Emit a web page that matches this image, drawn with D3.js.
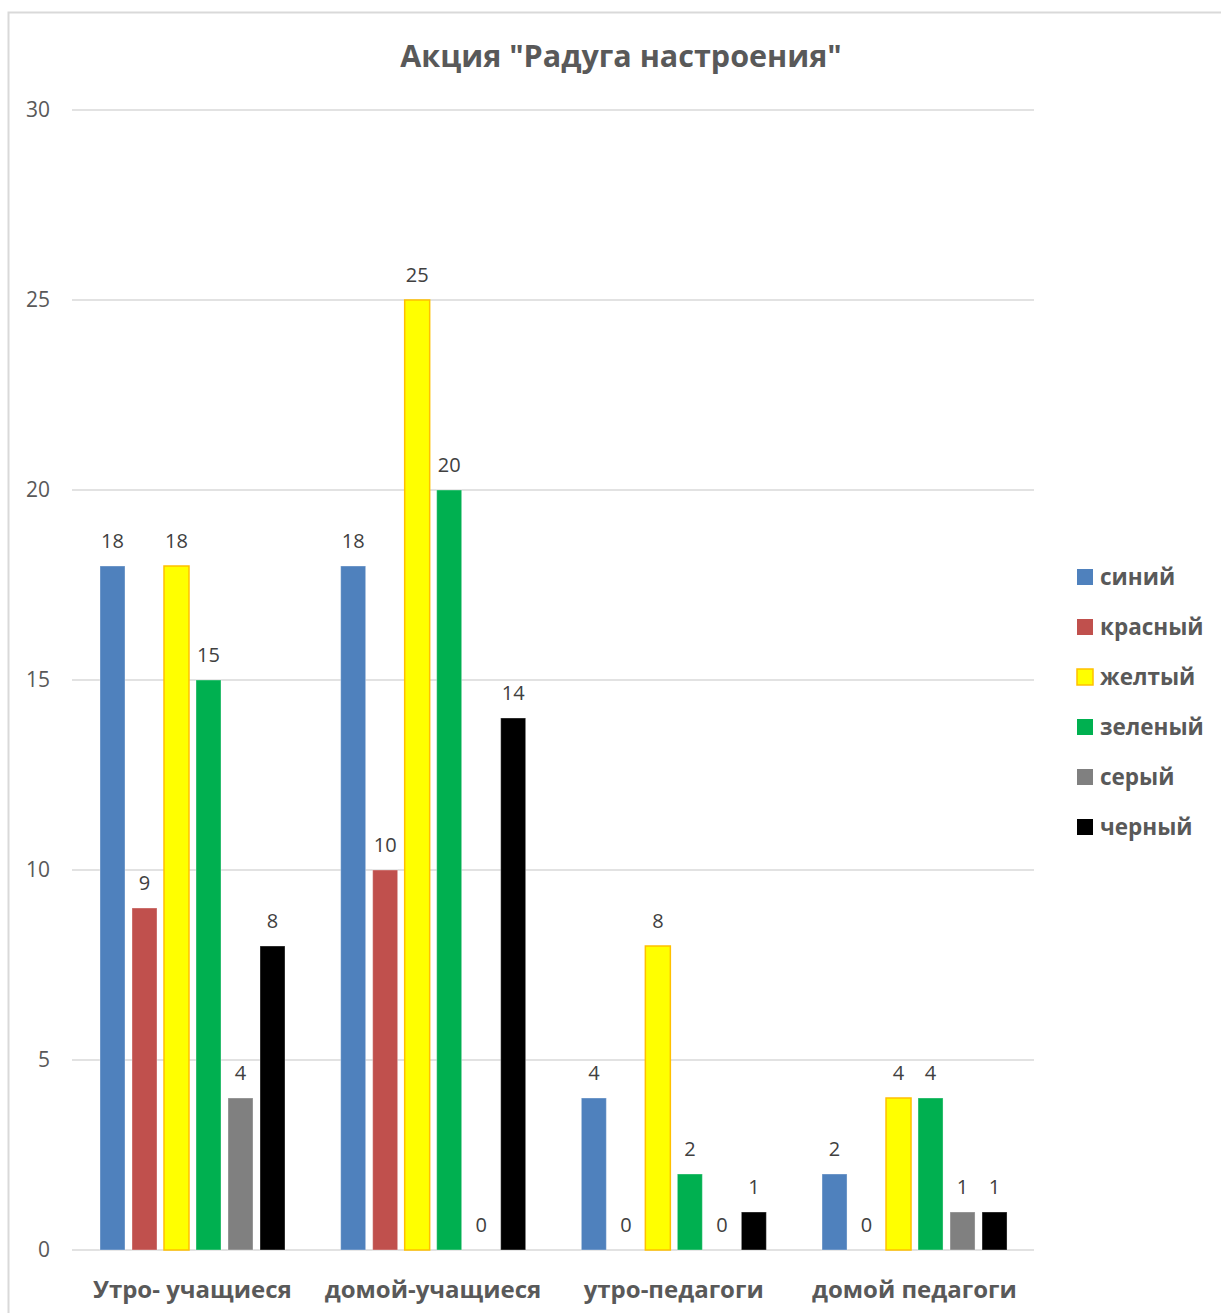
<!DOCTYPE html>
<html><head><meta charset="utf-8">
<script src="https://cdn.jsdelivr.net/npm/d3@7"></script>
<style>body{margin:0;background:#fff;} svg{display:block;}</style>
</head><body>
<script>
const categories = ["Утро- учащиеся", "домой-учащиеся", "утро-педагоги", "домой педагоги"];
const seriesNames = ["синий", "красный", "желтый", "зеленый", "серый", "черный"];
const seriesColors = ["#4F81BD", "#C0504D", "#FFFF00", "#00B050", "#808080", "#000000"];
const seriesStrokes = ["#4F81BD", "#C0504D", "#FFC000", "#00B050", "#808080", "#000000"];
const sinij = [18, 18, 4, 2];
const krasnyj = [9, 10, 0, 0];
const zheltyj = [18, 25, 8, 4];
const zelenyj = [15, 20, 2, 4];
const seryj = [4, 0, 0, 1];
const chernyj = [8, 14, 1, 1];
const yTicks = [0, 5, 10, 15, 20, 25, 30];
const title = 'Акция "Радуга настроения"';

const seriesValues = [sinij, krasnyj, zheltyj, zelenyj, seryj, chernyj];
const W = 1221, H = 1313;
const svg = d3.select("body").append("svg").attr("width", W).attr("height", H);
const font = "'Open Sans', 'DejaVu Sans', sans-serif";

svg.append("rect").attr("x", 8.5).attr("y", 12.5).attr("width", W + 10).attr("height", H + 10)
  .attr("fill", "#fff").attr("stroke", "#D9D9D9").attr("stroke-width", 2);

const x0 = d3.scaleBand().domain(categories).range([72, 1034.7]).padding(0);
const x1 = d3.scaleBand().domain(seriesNames).range([28, 213]).paddingInner(0.219).paddingOuter(0);
const y = d3.scaleLinear().domain([0, 30]).range([1250, 110]);

// gridlines
svg.append("g").selectAll("line").data(yTicks).join("line")
  .attr("x1", 72).attr("x2", 1034)
  .attr("y1", d => y(d)).attr("y2", d => y(d))
  .attr("stroke", "#D9D9D9").attr("stroke-width", 1.5);

// y axis labels
const yAxis = d3.axisLeft(y).tickValues(yTicks).tickSize(0).tickPadding(0);
const yg = svg.append("g").attr("transform", "translate(50,0)").call(yAxis);
yg.select(".domain").remove();
yg.selectAll("text").attr("font-family", font).attr("font-size", 21).attr("fill", "#595959");

// bars
const data = [];
categories.forEach((c, ci) => seriesNames.forEach((s, si) => data.push({c, s, si, v: seriesValues[si][ci]})));
const bars = svg.append("g");
bars.selectAll("rect").data(data.filter(d => d.v > 0)).join("rect")
  .attr("x", d => x0(d.c) + x1(d.s))
  .attr("y", d => y(d.v))
  .attr("width", x1.bandwidth())
  .attr("height", d => y(0) - y(d.v))
  .attr("fill", d => seriesColors[d.si])
  .attr("stroke", d => d.si === 2 ? seriesStrokes[d.si] : "#ffffff")
  .attr("stroke-opacity", d => d.si === 2 ? 1 : 0.35)
  .attr("stroke-width", d => d.si === 2 ? 1.5 : 1);

// data labels
svg.append("g").selectAll("text").data(data).join("text")
  .attr("x", d => x0(d.c) + x1(d.s) + x1.bandwidth() / 2)
  .attr("y", d => y(d.v) - 18)
  .attr("text-anchor", "middle")
  .attr("font-family", font).attr("font-size", 20).attr("fill", "#404040")
  .text(d => d.v);

// x axis labels
const xAxis = d3.axisBottom(x0).tickSize(0).tickPadding(0);
const xg = svg.append("g").attr("transform", "translate(0,1250)").call(xAxis);
xg.select(".domain").remove();
xg.selectAll("text").attr("font-family", font).attr("font-size", 24).attr("font-weight", "bold")
  .attr("fill", "#595959").attr("dy", null).attr("y", 48);

// title
svg.append("text").attr("x", 621).attr("y", 67).attr("text-anchor", "middle")
  .attr("font-family", font).attr("font-size", 30.5).attr("font-weight", "bold").attr("fill", "#595959")
  .text(title);

// legend
const lg = svg.append("g").selectAll("g").data(seriesNames).join("g")
  .attr("transform", (d, i) => `translate(1077,${577 + i * 50})`);
lg.append("rect").attr("x", 0).attr("y", -8).attr("width", 16).attr("height", 16)
  .attr("fill", (d, i) => seriesColors[i])
  .attr("stroke", (d, i) => i === 2 ? seriesStrokes[i] : "none").attr("stroke-width", 1.5);
lg.append("text").attr("x", 23).attr("y", 8).attr("font-family", font).attr("font-size", 22.5)
  .attr("font-weight", "bold").attr("fill", "#595959").text(d => d);
</script>
</body></html>
